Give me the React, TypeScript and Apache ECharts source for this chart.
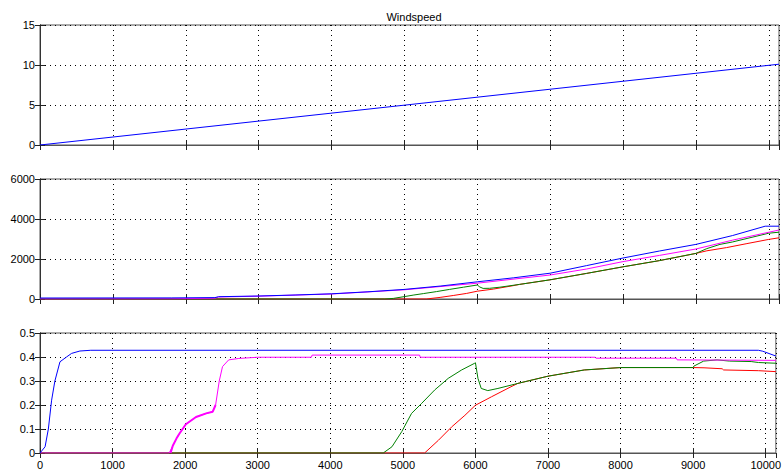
import React, { useEffect, useRef } from "react";
import * as echarts from "echarts";

// ---- Data ----
const xTicks = [0, 1000, 2000, 3000, 4000, 5000, 6000, 7000, 8000, 9000, 10000];
const xMax = 10140;

const titleText = "Windspeed";

// Panel 1: windspeed
const windspeed: number[][] = [[0, 0], [10140, 10.1]];

// Panel 2: power
const powerBlue: number[][] = [
  [0, 50], [1800, 55], [2400, 70], [2450, 115], [3000, 150], [3500, 200], [4000, 260],
  [4500, 360], [5000, 480], [5500, 650], [6000, 860], [6500, 1060], [7000, 1290],
  [7500, 1670], [8000, 2050], [8500, 2400], [9000, 2730], [9500, 3170], [9950, 3640], [10140, 3640],
];
const powerMagenta: number[][] = [
  [0, 0], [1800, 10], [2400, 40], [2450, 100], [3000, 140], [4000, 250], [5000, 460],
  [6000, 790], [7000, 1200], [7500, 1500], [8000, 1870], [8500, 2180], [9000, 2500],
  [9500, 2940], [10140, 3450],
];
const powerGreen: number[][] = [
  [0, 0], [4730, 0], [4850, 30], [5000, 120], [5130, 200], [5260, 270], [5440, 370],
  [5620, 480], [5810, 590], [6000, 700], [6035, 600], [6080, 530], [6170, 535],
  [6310, 590], [6580, 730], [7000, 960], [7500, 1280], [8000, 1610], [8500, 1920],
  [9000, 2280], [9150, 2520], [9330, 2730], [9500, 2850], [10000, 3290], [10140, 3340],
];
const powerRed: number[][] = [
  [0, 0], [5300, 0], [5490, 80], [5670, 175], [5855, 280], [6000, 390], [6220, 495],
  [6490, 665], [6580, 730], [7000, 960], [7500, 1280], [8000, 1610], [8500, 1920],
  [9000, 2280], [9150, 2410], [9420, 2570], [9700, 2770], [10000, 2980], [10140, 3060],
];

// Panel 3: Cp
const cpBlue: number[][] = [
  [0, 0], [70, 0.026], [115, 0.1], [160, 0.22], [205, 0.3], [275, 0.38], [365, 0.4],
  [435, 0.415], [550, 0.425], [700, 0.428], [9900, 0.428], [9960, 0.424], [10140, 0.404],
];
const cpMagenta: number[][] = [
  [0, 0], [1780, 0], [1830, 0.03], [1880, 0.06], [1920, 0.08], [2010, 0.12], [2150, 0.15],
  [2290, 0.165], [2380, 0.172], [2420, 0.2], [2470, 0.3], [2515, 0.36], [2600, 0.388],
  [2740, 0.394], [3000, 0.399], [3740, 0.399], [3750, 0.408], [5230, 0.408], [5240, 0.399],
  [7650, 0.399], [7660, 0.395], [8770, 0.395], [8780, 0.388], [10140, 0.386],
];
const cpMagentaBand: number[][] = [
  [1800, 0], [1830, 0.03], [1880, 0.06], [1920, 0.08], [2010, 0.12], [2150, 0.15],
  [2290, 0.165], [2380, 0.172], [2420, 0.2],
];
const cpGreen: number[][] = [
  [0, 0], [4730, 0], [4850, 0.026], [4985, 0.089], [5120, 0.165], [5260, 0.207],
  [5440, 0.263], [5625, 0.311], [5810, 0.346], [5990, 0.374], [6000, 0.376],
  [6035, 0.311], [6080, 0.269], [6170, 0.26], [6310, 0.269], [6585, 0.29], [7000, 0.32],
  [7500, 0.346], [8000, 0.356], [9000, 0.356], [9010, 0.362], [9145, 0.383], [9330, 0.388],
  [9500, 0.383], [9800, 0.381], [9900, 0.377], [10140, 0.374],
];
const cpRed: number[][] = [
  [0, 0], [5300, 0], [5490, 0.053], [5670, 0.108], [5855, 0.157], [6000, 0.199],
  [6220, 0.234], [6490, 0.276], [6585, 0.29], [7000, 0.32], [7500, 0.346], [8000, 0.356],
  [9000, 0.356], [9150, 0.355], [9400, 0.351], [9420, 0.346], [9900, 0.343], [10140, 0.339],
];

const yRanges = [
  { min: 0, max: 15, interval: 5 },
  { min: 0, max: 6000, interval: 2000 },
  { min: 0, max: 0.5, interval: 0.1 },
];

const BLUE = "#0000ff";
const MAGENTA = "#ff00ff";
const GREEN = "#008000";
const RED = "#ff0000";

export default function App() {
  const ref = useRef<HTMLDivElement>(null);
  useEffect(() => {
    if (!ref.current) return;
    const chart = echarts.init(ref.current, undefined, { renderer: "svg" });
    const font = "'Liberation Sans', Arial, sans-serif";
    const tops = [25, 179, 333];
    const grids = tops.map((t) => ({
      left: 40, width: 739, top: t, height: 120,
      show: true, borderColor: "#555", borderWidth: 1,
    }));
    const tickStyle = { show: true, inside: true, length: 5, lineStyle: { color: "#222", width: 1 } };
    const splitStyle = { show: true, lineStyle: { color: "#000", type: [1, 4] as any, width: 1 } };
    const xAxes: any[] = [];
    const yAxes: any[] = [];
    tops.forEach((_, i) => {
      xAxes.push({
        type: "value", gridIndex: i, min: 0, max: xMax, interval: 1000, position: "bottom",
        axisLine: { show: true, lineStyle: { color: "#333" } },
        axisTick: tickStyle,
        splitLine: splitStyle,
        axisLabel: {
          show: i === 2, showMaxLabel: false, color: "#000", fontSize: 11, fontFamily: font, margin: 6,
          formatter: (v: number) => (xTicks.includes(v) ? String(v) : ""),
        },
      });
      xAxes.push({
        type: "value", gridIndex: i, min: 0, max: xMax, interval: 1000, position: "top",
        axisLine: { show: true, lineStyle: { color: "#555" } },
        axisTick: tickStyle, splitLine: { show: false }, axisLabel: { show: false },
      });
      yAxes.push({
        type: "value", gridIndex: i, ...yRanges[i], position: "left",
        axisLine: { show: true, lineStyle: { color: "#222" } },
        axisTick: tickStyle, splitLine: splitStyle,
        axisLabel: {
          color: "#000", fontSize: 11, fontFamily: font, margin: 5,
          formatter: (v: number) => String(+Number(v).toFixed(4)),
        },
      });
      yAxes.push({
        type: "value", gridIndex: i, ...yRanges[i], position: "right",
        axisLine: { show: true, lineStyle: { color: "#333" } },
        axisTick: tickStyle, splitLine: { show: false }, axisLabel: { show: false },
      });
    });
    const line = (data: number[][], color: string, panel: number, width = 1) => ({
      type: "line", data, xAxisIndex: panel * 2, yAxisIndex: panel * 2,
      showSymbol: false, symbol: "none", lineStyle: { color, width }, itemStyle: { color },
      z: 3, silent: true,
    });
    chart.setOption({
      animation: false,
      title: {
        text: titleText, left: 409, top: 6, textAlign: "center",
        textStyle: { fontSize: 11, fontWeight: "normal", color: "#000", fontFamily: font },
      },
      grid: grids,
      xAxis: xAxes,
      yAxis: yAxes,
      series: [
        line(windspeed, BLUE, 0),
        line(powerRed, RED, 1),
        line(powerGreen, GREEN, 1),
        line(powerMagenta, MAGENTA, 1),
        line(powerBlue, BLUE, 1),
        line(cpRed, RED, 2),
        line(cpGreen, GREEN, 2),
        line(cpMagenta, MAGENTA, 2),
        line(cpMagentaBand, MAGENTA, 2, 2),
        line(cpBlue, BLUE, 2),
      ],
    });
    return () => chart.dispose();
  }, []);
  return (
    <div
      ref={ref}
      style={{ position: "fixed", left: 0, top: 0, width: 784, height: 473, background: "#fff" }}
    />
  );
}
